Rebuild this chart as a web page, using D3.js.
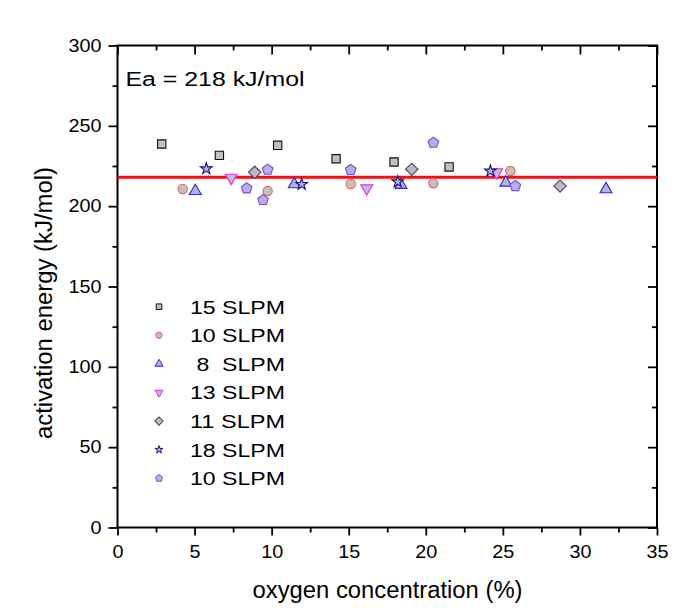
<!DOCTYPE html>
<html>
<head>
<meta charset="utf-8">
<script src="https://cdn.jsdelivr.net/npm/d3@7"></script>
<style>
  html, body { margin: 0; padding: 0; background: #ffffff; }
  svg text { font-family: "Liberation Sans", Arial, sans-serif; fill: #000; }
</style>
</head>
<body>
<svg id="chart" width="680" height="612"></svg>
<script>
// ---------- data ----------
const seriesNames = ["15 SLPM", "10 SLPM", " 8  SLPM", "13 SLPM", "11 SLPM", "18 SLPM", "10 SLPM"];

const sqX = [2.87, 6.61, 10.39, 14.18, 17.94, 21.51];
const sqY = [238.7, 231.6, 237.9, 229.5, 227.5, 224.4];

const ciX = [4.23, 9.74, 15.13, 20.49, 25.49];
const ciY = [210.7, 209.4, 213.8, 214.2, 221.9];

const tuX = [5.05, 11.47, 18.39, 25.19, 31.69];
const tuY = [209.4, 213.6, 213.2, 214.6, 210.5];

const tdX = [7.38, 16.17, 24.6];
const tdY = [217.7, 211.1, 221.1];

const diX = [8.9, 19.09, 28.71];
const diY = [221.1, 222.9, 212.5];

const stX = [5.76, 11.95, 18.18, 24.19];
const stY = [223.3, 213.6, 215.2, 221.9];

const peX = [8.38, 9.44, 9.74, 15.13, 20.49, 25.81];
const peY = [211.1, 203.8, 222.7, 222.5, 239.5, 212.5];

const eaValue = 218;
const eaLabel = "Ea = 218 kJ/mol";

const xMajorTicks = [0, 5, 10, 15, 20, 25, 30, 35];
const xMinorTicks = [2.5, 7.5, 12.5, 17.5, 22.5, 27.5, 32.5];
const yMajorTicks = [0, 50, 100, 150, 200, 250, 300];
const yMinorTicks = [25, 75, 125, 175, 225, 275];

const xTitle = "oxygen concentration (%)";
const yTitle = "activation energy (kJ/mol)";

// ---------- styles ----------
const strokeCols = ["#111111", "#e0605a", "#2a2ac0", "#e030e0", "#45454f", "#16167a", "#7a4cc8"];
const fillCols   = ["#c0c0c0", "#c4c0c0", "#b6b6e6", "#c4b8dc", "#b9b9c9", "#b4b4e4", "#b6aee6"];

const pentagon = {
  draw(ctx, size) {
    const r = Math.sqrt(size / (2.5 * Math.sin(2 * Math.PI / 5)));
    for (let k = 0; k < 5; k++) {
      const a = -Math.PI / 2 + k * 2 * Math.PI / 5;
      const px = r * Math.cos(a), py = r * Math.sin(a);
      if (k === 0) ctx.moveTo(px, py); else ctx.lineTo(px, py);
    }
    ctx.closePath();
  }
};

const shapes = [
  { type: d3.symbolSquare,   size: 69, rot: 0 },
  { type: d3.symbolCircle,   size: 68, rot: 0 },
  { type: d3.symbolTriangle, size: 62, rot: 0 },
  { type: d3.symbolTriangle, size: 62, rot: 180 },
  { type: d3.symbolSquare,   size: 76, rot: 45 },
  { type: d3.symbolStar,     size: 42, rot: 0 },
  { type: pentagon,          size: 74, rot: 0 }
];

const seriesData = [
  [sqX, sqY], [ciX, ciY], [tuX, tuY], [tdX, tdY], [diX, diY], [stX, stY], [peX, peY]
];

// ---------- scales ----------
const svg = d3.select("#chart");
const x = d3.scaleLinear().domain([0, 35]).range([117.5, 657]);
const y = d3.scaleLinear().domain([0, 300]).range([527.5, 45.5]);

// ---------- axes ----------
function styleAxis(g) {
  g.select(".domain").remove();
  g.selectAll(".tick line").attr("stroke", "#000").attr("stroke-width", 1.8);
  g.selectAll(".tick text").attr("font-size", 18).attr("fill", "#000")
    .attr("lengthAdjust", "spacingAndGlyphs")
    .each(function () {
      const t = d3.select(this).text();
      d3.select(this).attr("textLength", t.length * 11);
    });
}

svg.append("g").attr("transform", `translate(0,${y(0)})`)
  .call(d3.axisBottom(x).tickValues(xMajorTicks).tickSize(8).tickPadding(10).tickFormat(d3.format("d")))
  .call(styleAxis);
svg.append("g").attr("transform", `translate(0,${y(0)})`)
  .call(d3.axisBottom(x).tickValues(xMinorTicks).tickSize(5).tickFormat(""))
  .call(styleAxis);

svg.append("g").attr("transform", `translate(${x(0)},0)`)
  .call(d3.axisLeft(y).tickValues(yMajorTicks).tickSize(9).tickPadding(7).tickFormat(d3.format("d")))
  .call(styleAxis);
svg.append("g").attr("transform", `translate(${x(0)},0)`)
  .call(d3.axisLeft(y).tickValues(yMinorTicks).tickSize(5).tickFormat(""))
  .call(styleAxis);

// mirror axes (ticks pointing inward)
svg.append("g").attr("transform", `translate(0,${y(300)})`)
  .call(d3.axisBottom(x).tickValues(xMajorTicks).tickSize(9).tickFormat(""))
  .call(styleAxis);
svg.append("g").attr("transform", `translate(0,${y(300)})`)
  .call(d3.axisBottom(x).tickValues(xMinorTicks).tickSize(5).tickFormat(""))
  .call(styleAxis);
svg.append("g").attr("transform", `translate(${x(35)},0)`)
  .call(d3.axisLeft(y).tickValues(yMajorTicks).tickSize(9).tickFormat(""))
  .call(styleAxis);
svg.append("g").attr("transform", `translate(${x(35)},0)`)
  .call(d3.axisLeft(y).tickValues(yMinorTicks).tickSize(5).tickFormat(""))
  .call(styleAxis);

// frame
svg.append("rect")
  .attr("x", x(0)).attr("y", y(300))
  .attr("width", x(35) - x(0)).attr("height", y(0) - y(300))
  .attr("fill", "none").attr("stroke", "#000").attr("stroke-width", 2);

// Ea line
svg.append("line")
  .attr("x1", x(0)).attr("x2", x(35))
  .attr("y1", y(eaValue)).attr("y2", y(eaValue))
  .attr("stroke", "#e8141a").attr("stroke-width", 3);

// ---------- markers ----------
seriesData.forEach((s, i) => {
  const sh = shapes[i];
  const pts = s[0].map((xv, j) => ({ xv, yv: s[1][j] }));
  svg.append("g").selectAll("path").data(pts).join("path")
    .attr("d", d3.symbol().type(sh.type).size(sh.size))
    .attr("transform", d => `translate(${x(d.xv)},${y(d.yv)}) rotate(${sh.rot})`)
    .attr("fill", fillCols[i])
    .attr("stroke", strokeCols[i])
    .attr("stroke-width", 1.1);
});

// ---------- legend ----------
const legendY0 = 306.7, legendDY = 28.6;
const legend = svg.append("g");
seriesNames.forEach((name, i) => {
  const sh = shapes[i];
  const cy = legendY0 + i * legendDY;
  legend.append("path")
    .attr("d", d3.symbol().type(sh.type).size(sh.size * 0.45))
    .attr("transform", `translate(159,${cy}) rotate(${sh.rot})`)
    .attr("fill", fillCols[i])
    .attr("stroke", strokeCols[i])
    .attr("stroke-width", 1);
  legend.append("text")
    .attr("x", 190).attr("y", cy + 6.8)
    .attr("font-size", 19)
    .attr("xml:space", "preserve")
    .style("white-space", "pre")
    .attr("textLength", 95).attr("lengthAdjust", "spacingAndGlyphs")
    .text(name);
});

// ---------- annotation & titles ----------
svg.append("text")
  .attr("x", 125.5).attr("y", 86)
  .attr("font-size", 20)
  .attr("textLength", 179).attr("lengthAdjust", "spacingAndGlyphs")
  .text(eaLabel);

svg.append("text")
  .attr("x", 387.5).attr("y", 597.5)
  .attr("text-anchor", "middle")
  .attr("font-size", 23)
  .attr("textLength", 270).attr("lengthAdjust", "spacingAndGlyphs")
  .text(xTitle);

svg.append("text")
  .attr("transform", "translate(52,303) rotate(-90)")
  .attr("text-anchor", "middle")
  .attr("font-size", 23)
  .attr("textLength", 272).attr("lengthAdjust", "spacingAndGlyphs")
  .text(yTitle);
</script>
</body>
</html>
